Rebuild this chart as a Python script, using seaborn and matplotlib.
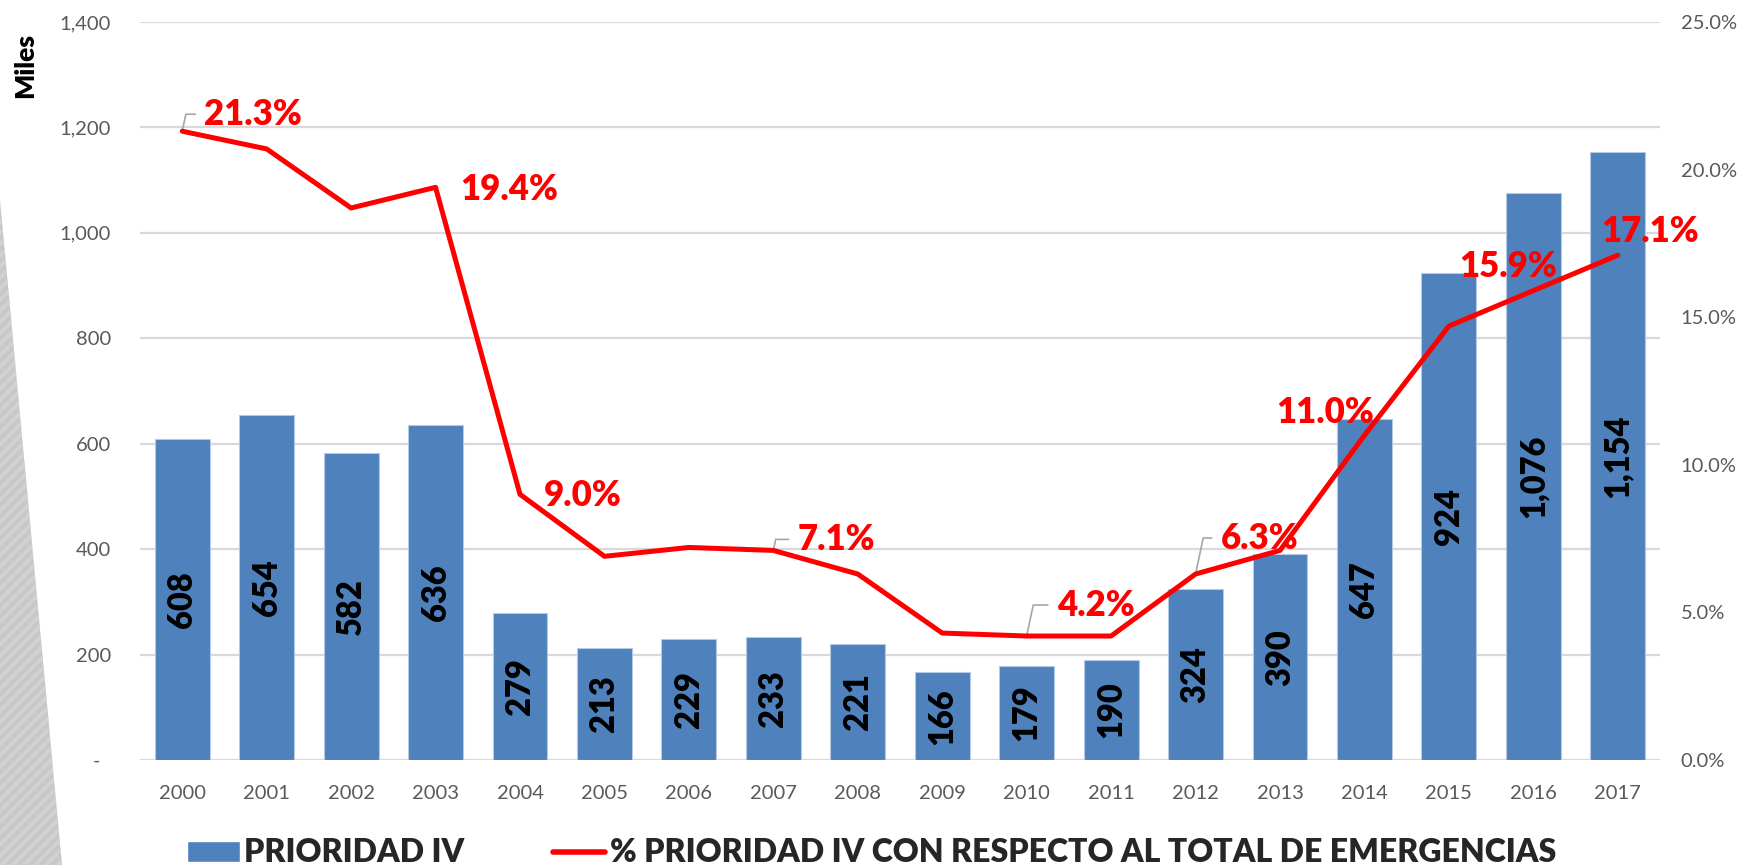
import numpy as np
import pandas as pd
import matplotlib
matplotlib.use('Agg')
import matplotlib.pyplot as plt
import seaborn as sns
from matplotlib.patches import Patch, Polygon
from matplotlib.lines import Line2D
from matplotlib.ticker import FuncFormatter

# --- data -----------------------------------------------------------------
years = ['2000', '2001', '2002', '2003', '2004', '2005', '2006', '2007', '2008',
         '2009', '2010', '2011', '2012', '2013', '2014', '2015', '2016', '2017']
prioridad_iv = [608, 654, 582, 636, 279, 213, 229, 233, 221,
                166, 179, 190, 324, 390, 647, 924, 1076, 1154]   # miles
pct_prioridad_iv = [21.3, 20.7, 18.7, 19.4, 9.0, 6.9, 7.2, 7.1, 6.3,
                    4.3, 4.2, 4.2, 6.3, 7.1, 11.0, 14.7, 15.9, 17.1]
left_ticks = [0, 200, 400, 600, 800, 1000, 1200, 1400]
right_ticks = [0, 5, 10, 15, 20, 25]
bar_name = 'PRIORIDAD IV'
line_name = '% PRIORIDAD IV CON RESPECTO AL TOTAL DE EMERGENCIAS'

# which points get a % label: (year, dx px, dy px, leader line)
pct_label_style = [
    ('2000', 22, 17, True),
    ('2003', 25, -2, False),
    ('2004', 24, -1, False),
    ('2007', 24, 11, True),
    ('2010', 30, 31, True),
    ('2012', 25, 36, True),
    ('2014', -88, 23, False),
    ('2016', -74, 24, False),
    ('2017', -17, 24, False),
]

BLUE = '#4f81bd'
RED = '#ff0000'
GRID = '#d9d9d9'
TICK = '#595959'
HEAVY = 'heavy'

sns.set_style('white')
plt.rcParams['font.family'] = ['Lato', 'DejaVu Sans']
plt.rcParams['hatch.linewidth'] = 2.5

W, H = 1746, 865
fig = plt.figure(figsize=(W / 100, H / 100), dpi=100)
ax = fig.add_axes([140 / W, 1 - 760 / H, 1520 / W, 738 / H])
ax.patch.set_alpha(0)

# decorative grey strip on the left edge of the slide
strip = Polygon([(0, 1 - 200 / H), (62 / W, 0), (0, 0)], closed=True,
                transform=fig.transFigure, facecolor='#c8c8c8',
                edgecolor='#d2d2d2', hatch='///', lw=0, zorder=0)
fig.add_artist(strip)

# bars
sns.barplot(x=years, y=prioridad_iv, color=BLUE, saturation=1, width=0.65,
            edgecolor='#b4c9e3', linewidth=0.8, ax=ax, zorder=2)
ax.bar_label(ax.containers[0], labels=[f'{v:,}' for v in prioridad_iv],
             label_type='center', rotation=90, fontsize=23.5,
             fontweight=HEAVY, color='black')

ax.set_ylim(0, 1400)
ax.set_yticks(left_ticks)
ax.yaxis.set_major_formatter(FuncFormatter(lambda v, p: '-  ' if v == 0 else f'{v:,.0f}'))
ax.yaxis.grid(True, color=GRID, lw=1.6)
ax.set_axisbelow(True)
ax.set_xlabel('')
ax.set_ylabel('')
ax.tick_params(axis='both', length=0, labelsize=14.5, labelcolor=TICK)
ax.tick_params(axis='y', pad=21)
ax.tick_params(axis='x', pad=18)
for s in ax.spines.values():
    s.set_visible(False)

# line on the secondary axis
ax2 = ax.twinx()
x_pos = np.arange(len(years))
sns.lineplot(x=x_pos, y=pct_prioridad_iv, color=RED, linewidth=3.6, ax=ax2, zorder=3)
ax2.set_ylim(0, 25)
ax2.set_yticks(right_ticks)
ax2.yaxis.set_major_formatter(FuncFormatter(lambda v, p: f'{v:.1f}%'))
ax2.tick_params(axis='y', length=0, labelsize=14.5, labelcolor=TICK, pad=15)
ax2.set_ylabel('')
ax2.grid(False)
for s in ax2.spines.values():
    s.set_visible(False)
ax.set_xlim(-0.5, len(years) - 0.5)

# % labels
for year, dx, dy, leader in pct_label_style:
    i = years.index(year)
    val = pct_prioridad_iv[i]
    kw = {}
    if leader:
        kw['arrowprops'] = dict(arrowstyle='-', color='#a6a6a6', lw=1.2,
                                connectionstyle='angle,angleA=0,angleB=78,rad=0',
                                shrinkA=4, shrinkB=0, relpos=(0, 0.5))
    ax2.annotate(f'{val:.1f}%', xy=(i, val), xytext=(dx, dy),
                 textcoords='offset pixels', ha='left', va='center',
                 fontsize=25, fontweight=HEAVY, color=RED, zorder=2.5, **kw)

# y axis title
fig.text(25 / W, 1 - 65 / H, 'Miles', rotation=90, ha='center', va='center',
         fontsize=19, fontweight=HEAVY, color='black')

# legend
handles = [Patch(facecolor=BLUE, label=bar_name),
           Line2D([], [], color=RED, lw=4, label=line_name)]
fig.legend(handles=handles, loc='center left', bbox_to_anchor=(187 / W, 1 - 853 / H),
           ncol=2, frameon=False, prop={'weight': HEAVY, 'size': 23},
           handlelength=1.65, handleheight=0.62, handletextpad=0.15,
           columnspacing=2.75, borderpad=0, borderaxespad=0)

fig.savefig('out.png', dpi=100)
